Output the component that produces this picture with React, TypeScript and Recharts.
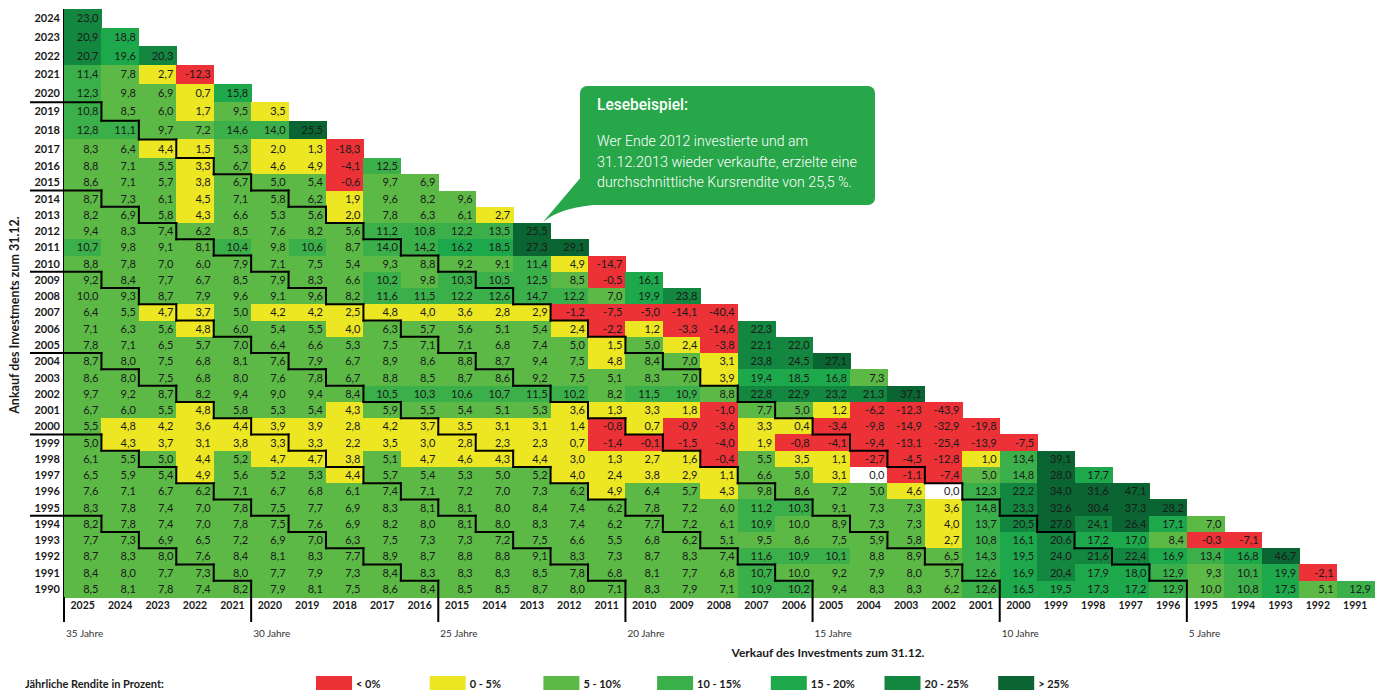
import React from "react";
import { ScatterChart, Scatter, XAxis, YAxis } from "recharts";

// Verkaufsjahre (Spalten, links -> rechts) und Ankaufsjahre (Zeilen, oben -> unten)
const SELL_YEARS = [
  2025, 2024, 2023, 2022, 2021, 2020, 2019, 2018, 2017, 2016, 2015, 2014, 2013, 2012, 2011, 2010, 2009, 2008,
  2007, 2006, 2005, 2004, 2003, 2002, 2001, 2000, 1999, 1998, 1997, 1996, 1995, 1994, 1993, 1992, 1991,
];
const BUY_YEARS = [
  2024, 2023, 2022, 2021, 2020, 2019, 2018, 2017, 2016, 2015, 2014, 2013, 2012, 2011, 2010, 2009, 2008, 2007,
  2006, 2005, 2004, 2003, 2002, 2001, 2000, 1999, 1998, 1997, 1996, 1995, 1994, 1993, 1992, 1991, 1990,
];

// Jaehrliche Rendite in %, je Ankaufsjahr, ab Verkauf 2025 abwaerts
const buy2024 = [23.0];
const buy2023 = [20.9, 18.8];
const buy2022 = [20.7, 19.6, 20.3];
const buy2021 = [11.4, 7.8, 2.7, -12.3];
const buy2020 = [12.3, 9.8, 6.9, 0.7, 15.8];
const buy2019 = [10.8, 8.5, 6.0, 1.7, 9.5, 3.5];
const buy2018 = [12.8, 11.1, 9.7, 7.2, 14.6, 14.0, 25.5];
const buy2017 = [8.3, 6.4, 4.4, 1.5, 5.3, 2.0, 1.3, -18.3];
const buy2016 = [8.8, 7.1, 5.5, 3.3, 6.7, 4.6, 4.9, -4.1, 12.5];
const buy2015 = [8.6, 7.1, 5.7, 3.8, 6.7, 5.0, 5.4, -0.6, 9.7, 6.9];
const buy2014 = [8.7, 7.3, 6.1, 4.5, 7.1, 5.8, 6.2, 1.9, 9.6, 8.2, 9.6];
const buy2013 = [8.2, 6.9, 5.8, 4.3, 6.6, 5.3, 5.6, 2.0, 7.8, 6.3, 6.1, 2.7];
const buy2012 = [9.4, 8.3, 7.4, 6.2, 8.5, 7.6, 8.2, 5.6, 11.2, 10.8, 12.2, 13.5, 25.5];
const buy2011 = [10.7, 9.8, 9.1, 8.1, 10.4, 9.8, 10.6, 8.7, 14.0, 14.2, 16.2, 18.5, 27.3, 29.1];
const buy2010 = [8.8, 7.8, 7.0, 6.0, 7.9, 7.1, 7.5, 5.4, 9.3, 8.8, 9.2, 9.1, 11.4, 4.9, -14.7];
const buy2009 = [9.2, 8.4, 7.7, 6.7, 8.5, 7.9, 8.3, 6.6, 10.2, 9.8, 10.3, 10.5, 12.5, 8.5, -0.5, 16.1];
const buy2008 = [10.0, 9.3, 8.7, 7.9, 9.6, 9.1, 9.6, 8.2, 11.6, 11.5, 12.2, 12.6, 14.7, 12.2, 7.0, 19.9, 23.8];
const buy2007 = [6.4, 5.5, 4.7, 3.7, 5.0, 4.2, 4.2, 2.5, 4.8, 4.0, 3.6, 2.8, 2.9, -1.2, -7.5, -5.0, -14.1, -40.4];
const buy2006 = [7.1, 6.3, 5.6, 4.8, 6.0, 5.4, 5.5, 4.0, 6.3, 5.7, 5.6, 5.1, 5.4, 2.4, -2.2, 1.2, -3.3, -14.6, 22.3];
const buy2005 = [7.8, 7.1, 6.5, 5.7, 7.0, 6.4, 6.6, 5.3, 7.5, 7.1, 7.1, 6.8, 7.4, 5.0, 1.5, 5.0, 2.4, -3.8, 22.1, 22.0];
const buy2004 = [
  8.7, 8.0, 7.5, 6.8, 8.1, 7.6, 7.9, 6.7, 8.9, 8.6, 8.8, 8.7, 9.4, 7.5, 4.8, 8.4, 7.0, 3.1, 23.8, 24.5, 27.1,
];
const buy2003 = [
  8.6, 8.0, 7.5, 6.8, 8.0, 7.6, 7.8, 6.7, 8.8, 8.5, 8.7, 8.6, 9.2, 7.5, 5.1, 8.3, 7.0, 3.9, 19.4, 18.5, 16.8, 7.3,
];
const buy2002 = [
  9.7, 9.2, 8.7, 8.2, 9.4, 9.0, 9.4, 8.4, 10.5, 10.3, 10.6, 10.7, 11.5, 10.2, 8.2, 11.5, 10.9, 8.8, 22.8, 22.9, 23.2,
  21.3, 37.1,
];
const buy2001 = [
  6.7, 6.0, 5.5, 4.8, 5.8, 5.3, 5.4, 4.3, 5.9, 5.5, 5.4, 5.1, 5.3, 3.6, 1.3, 3.3, 1.8, -1.0, 7.7, 5.0, 1.2, -6.2,
  -12.3, -43.9,
];
const buy2000 = [
  5.5, 4.8, 4.2, 3.6, 4.4, 3.9, 3.9, 2.8, 4.2, 3.7, 3.5, 3.1, 3.1, 1.4, -0.8, 0.7, -0.9, -3.6, 3.3, 0.4, -3.4, -9.8,
  -14.9, -32.9, -19.8,
];
const buy1999 = [
  5.0, 4.3, 3.7, 3.1, 3.8, 3.3, 3.3, 2.2, 3.5, 3.0, 2.8, 2.3, 2.3, 0.7, -1.4, -0.1, -1.5, -4.0, 1.9, -0.8, -4.1, -9.4,
  -13.1, -25.4, -13.9, -7.5,
];
const buy1998 = [
  6.1, 5.5, 5.0, 4.4, 5.2, 4.7, 4.7, 3.8, 5.1, 4.7, 4.6, 4.3, 4.4, 3.0, 1.3, 2.7, 1.6, -0.4, 5.5, 3.5, 1.1, -2.7,
  -4.5, -12.8, 1.0, 13.4, 39.1,
];
const buy1997 = [
  6.5, 5.9, 5.4, 4.9, 5.6, 5.2, 5.3, 4.4, 5.7, 5.4, 5.3, 5.0, 5.2, 4.0, 2.4, 3.8, 2.9, 1.1, 6.6, 5.0, 3.1, 0.0, -1.1,
  -7.4, 5.0, 14.8, 28.0, 17.7,
];
const buy1996 = [
  7.6, 7.1, 6.7, 6.2, 7.1, 6.7, 6.8, 6.1, 7.4, 7.1, 7.2, 7.0, 7.3, 6.2, 4.9, 6.4, 5.7, 4.3, 9.8, 8.6, 7.2, 5.0, 4.6,
  0.0, 12.3, 22.2, 34.0, 31.6, 47.1,
];
const buy1995 = [
  8.3, 7.8, 7.4, 7.0, 7.8, 7.5, 7.7, 6.9, 8.3, 8.1, 8.1, 8.0, 8.4, 7.4, 6.2, 7.8, 7.2, 6.0, 11.2, 10.3, 9.1, 7.3, 7.3,
  3.6, 14.8, 23.3, 32.6, 30.4, 37.3, 28.2,
];
const buy1994 = [
  8.2, 7.8, 7.4, 7.0, 7.8, 7.5, 7.6, 6.9, 8.2, 8.0, 8.1, 8.0, 8.3, 7.4, 6.2, 7.7, 7.2, 6.1, 10.9, 10.0, 8.9, 7.3, 7.3,
  4.0, 13.7, 20.5, 27.0, 24.1, 26.4, 17.1, 7.0,
];
const buy1993 = [
  7.7, 7.3, 6.9, 6.5, 7.2, 6.9, 7.0, 6.3, 7.5, 7.3, 7.3, 7.2, 7.5, 6.6, 5.5, 6.8, 6.2, 5.1, 9.5, 8.6, 7.5, 5.9, 5.8,
  2.7, 10.8, 16.1, 20.6, 17.2, 17.0, 8.4, -0.3, -7.1,
];
const buy1992 = [
  8.7, 8.3, 8.0, 7.6, 8.4, 8.1, 8.3, 7.7, 8.9, 8.7, 8.8, 8.8, 9.1, 8.3, 7.3, 8.7, 8.3, 7.4, 11.6, 10.9, 10.1, 8.8, 8.9,
  6.5, 14.3, 19.5, 24.0, 21.6, 22.4, 16.9, 13.4, 16.8, 46.7,
];
const buy1991 = [
  8.4, 8.0, 7.7, 7.3, 8.0, 7.7, 7.9, 7.3, 8.4, 8.3, 8.3, 8.3, 8.5, 7.8, 6.8, 8.1, 7.7, 6.8, 10.7, 10.0, 9.2, 7.9, 8.0,
  5.7, 12.6, 16.9, 20.4, 17.9, 18.0, 12.9, 9.3, 10.1, 19.9, -2.1,
];
const buy1990 = [
  8.5, 8.1, 7.8, 7.4, 8.2, 7.9, 8.1, 7.5, 8.6, 8.4, 8.5, 8.5, 8.7, 8.0, 7.1, 8.3, 7.9, 7.1, 10.9, 10.2, 9.4, 8.3, 8.3,
  6.2, 12.6, 16.5, 19.5, 17.3, 17.2, 12.9, 10.0, 10.8, 17.5, 5.1, 12.9,
];

const RETURNS = [
  buy2024, buy2023, buy2022, buy2021, buy2020, buy2019, buy2018, buy2017, buy2016, buy2015, buy2014, buy2013,
  buy2012, buy2011, buy2010, buy2009, buy2008, buy2007, buy2006, buy2005, buy2004, buy2003, buy2002, buy2001,
  buy2000, buy1999, buy1998, buy1997, buy1996, buy1995, buy1994, buy1993, buy1992, buy1991, buy1990,
];

const HOLD_MARKS = [35, 30, 25, 20, 15, 10, 5];

const LEGEND_LABELS = ["< 0%", "0 - 5%", "5 - 10%", "10 - 15%", "15 - 20%", "20 - 25%", "> 25%"];
const BAND_COLORS = ["#ED3237", "#ECE623", "#5CB946", "#3BB04A", "#1DA84C", "#138640", "#0A6532"];

const CALLOUT_TITLE = "Lesebeispiel:";
const CALLOUT_LINES = [
  "Wer Ende 2012 investierte und am",
  "31.12.2013 wieder verkaufte, erzielte eine",
  "durchschnittliche Kursrendite von 25,5 %.",
];
const CALLOUT_WIDTHS = [211, 260, 255];

// layout
const W = 1383;
const PLOT_L = 64;
const PLOT_R = 1374;
const CW = (PLOT_R - PLOT_L) / SELL_YEARS.length;
const SPLIT = 158; // Grenze zwischen oberem (hoeheren) und unterem Block
const TOP_H = SPLIT;
const BOT_TOP = SPLIT - 2;
const BOT_H = 690 - BOT_TOP;
const X_AXIS_H = 93;
const AXIS_Y = BOT_H - X_AXIS_H;
const RH_TOP = (SPLIT - 9) / 8;
const RH_BOT = (597 - SPLIT) / 27;

const CELL_FONT = "Lato, 'Open Sans', sans-serif";
const NARROW_FONT = "'Liberation Sans Narrow', 'Roboto', 'Liberation Sans', sans-serif";

function bandColor(v: number) {
  if (v < 0) return BAND_COLORS[0];
  if (v === 0) return "#ffffff";
  if (v < 5) return BAND_COLORS[1];
  if (v <= 10) return BAND_COLORS[2];
  if (v < 15) return BAND_COLORS[3];
  if (v < 20) return BAND_COLORS[4];
  if (v < 25) return BAND_COLORS[5];
  return BAND_COLORS[6];
}

const fmt = (v: number) => v.toFixed(1).replace(".", ",");

type CellDatum = { x: number; y: number; v: number; sell: number; buy: number; hold: number };

function buildCells(fromBuy: number, toBuy: number): CellDatum[] {
  const out: CellDatum[] = [];
  BUY_YEARS.forEach((buy, r) => {
    if (buy > fromBuy || buy < toBuy) return;
    RETURNS[r].forEach((v, i) => {
      const sell = SELL_YEARS[i];
      out.push({ x: i + 0.5, y: buy - toBuy + 0.5, v, sell, buy, hold: sell - buy });
    });
  });
  return out;
}

const topCells = buildCells(2024, 2017);
const bottomCells = buildCells(2016, 1990);

const isStep = (hold: number) => hold > 1 && hold % 5 === 1;

function CellBox(props: any) {
  const { cx, cy, payload, rh } = props;
  if (cx == null || cy == null) return null;
  const d = payload as CellDatum;
  return (
    <g>
      <rect
        x={cx - CW / 2}
        y={cy - rh / 2}
        width={CW + 0.6}
        height={rh + 0.6}
        fill={bandColor(d.v)}
        shapeRendering="crispEdges"
      />
      <text
        x={cx + CW / 2 - 3}
        y={cy + 4}
        textAnchor="end"
        fontFamily={CELL_FONT}
        fontSize={11}
        fill="#1a1a1a"
      >
        {fmt(d.v)}
      </text>
    </g>
  );
}

// Treppenlinien an den 5-Jahres-Grenzen der Haltedauer
function StepEdges(props: any) {
  const { cx, cy, payload, rh } = props;
  const d = payload as CellDatum;
  if (cx == null || !isStep(d.hold)) return <g />;
  const l = cx - CW / 2;
  const r = cx + CW / 2;
  const t = cy - rh / 2;
  const b = cy + rh / 2;
  return (
    <g stroke="#000" strokeWidth={2} strokeLinecap="square">
      <line x1={l} x2={r} y1={t} y2={t} />
      <line x1={r} x2={r} y1={t} y2={b} />
    </g>
  );
}

function YTick(props: any) {
  const { y, payload, base, rh } = props;
  const year = base + Math.floor(payload.value);
  const stub = year < 2024 && isStep(2025 - year);
  return (
    <g>
      <text x={60} y={y + 4} textAnchor="end" fontFamily={CELL_FONT} fontWeight={700} fontSize={11} fill="#1a1a1a">
        {year}
      </text>
      {stub && <line x1={30} x2={PLOT_L} y1={y - rh / 2} y2={y - rh / 2} stroke="#000" strokeWidth={2} />}
    </g>
  );
}

function XTick(props: any) {
  const { x, payload } = props;
  const sell = SELL_YEARS[Math.floor(payload.value)];
  const hold = sell - BUY_YEARS[BUY_YEARS.length - 1];
  const left = x - CW / 2;
  return (
    <g>
      <text x={x} y={AXIS_Y + 12} textAnchor="middle" fontFamily={CELL_FONT} fontWeight={700} fontSize={10.5} fill="#1a1a1a">
        {sell}
      </text>
      {HOLD_MARKS.includes(hold) && (
        <g>
          <line x1={left} x2={left} y1={AXIS_Y} y2={AXIS_Y + 25} stroke="#000" strokeWidth={2} />
          <text x={left + 2} y={AXIS_Y + 40} fontFamily={CELL_FONT} fontSize={10} fill="#333">
            {hold} Jahre
          </text>
        </g>
      )}
    </g>
  );
}

const colTicks = SELL_YEARS.map((_, i) => i + 0.5);

export default function App() {
  return (
    <div style={{ position: "absolute", left: 0, top: 0, width: W, height: 690, background: "#fff" }}>
      <div style={{ position: "absolute", left: 0, top: 0 }}>
        <ScatterChart width={W} height={TOP_H} margin={{ top: 9, right: W - PLOT_R, bottom: 0, left: 0 }}>
          <XAxis type="number" dataKey="x" domain={[0, SELL_YEARS.length]} hide />
          <YAxis
            type="number"
            dataKey="y"
            domain={[0, 8]}
            ticks={[0.5, 1.5, 2.5, 3.5, 4.5, 5.5, 6.5, 7.5]}
            interval={0}
            width={PLOT_L}
            axisLine={{ stroke: "#000", strokeWidth: 2 }}
            tickLine={false}
            tick={<YTick base={2017} rh={RH_TOP} />}
          />
          <Scatter data={topCells} isAnimationActive={false} shape={(p: any) => <CellBox {...p} rh={RH_TOP} />} />
          <Scatter data={topCells} isAnimationActive={false} shape={(p: any) => <StepEdges {...p} rh={RH_TOP} />} />
        </ScatterChart>
      </div>
      <div style={{ position: "absolute", left: 0, top: BOT_TOP }}>
        <ScatterChart width={W} height={BOT_H} margin={{ top: 2, right: W - PLOT_R, bottom: 0, left: 0 }}>
          <XAxis
            type="number"
            dataKey="x"
            domain={[0, SELL_YEARS.length]}
            ticks={colTicks}
            interval={0}
            height={X_AXIS_H}
            axisLine={{ stroke: "#000", strokeWidth: 2 }}
            tickLine={false}
            tick={<XTick />}
          />
          <YAxis
            type="number"
            dataKey="y"
            domain={[0, 27]}
            ticks={Array.from({ length: 27 }, (_, i) => i + 0.5)}
            interval={0}
            width={PLOT_L}
            axisLine={{ stroke: "#000", strokeWidth: 2 }}
            tickLine={false}
            tick={<YTick base={1990} rh={RH_BOT} />}
          />
          <Scatter data={bottomCells} isAnimationActive={false} shape={(p: any) => <CellBox {...p} rh={RH_BOT} />} />
          <Scatter data={bottomCells} isAnimationActive={false} shape={(p: any) => <StepEdges {...p} rh={RH_BOT} />} />
        </ScatterChart>
      </div>
      <svg
        width={W}
        height={690}
        style={{ position: "absolute", left: 0, top: 0, pointerEvents: "none" }}
      >
        <text
          transform="translate(19,315) rotate(-90)"
          textAnchor="middle"
          fontFamily={CELL_FONT}
          fontWeight={700}
          fontSize={12.5}
          fill="#1a1a1a"
        >
          Ankauf des Investments zum 31.12.
        </text>
        <text x={828} y={657} textAnchor="middle" fontFamily={CELL_FONT} fontWeight={700} fontSize={12} fill="#1a1a1a">
          Verkauf des Investments zum 31.12.
        </text>

        <text x={25} y={688} fontFamily={CELL_FONT} fontWeight={700} fontSize={11} fill="#1a1a1a">
          Jährliche Rendite in Prozent:
        </text>
        {LEGEND_LABELS.map((label, i) => {
          const x0 = 316 + i * 113.7;
          return (
            <g key={label}>
              <rect x={x0} y={676} width={36} height={14} fill={BAND_COLORS[i]} />
              <text x={x0 + 40} y={688} fontFamily={CELL_FONT} fontWeight={700} fontSize={11} fill="#1a1a1a">
                {label}
              </text>
            </g>
          );
        })}

        <g fill="#27A74A">
          <rect x={580} y={86} width={295} height={119} rx={7} />
          <path d="M 582 176 L 543 222 Q 562 206 606 204 L 606 176 Z" />
        </g>
        <text
          x={597}
          y={110}
          fontFamily={NARROW_FONT}
          fontWeight={500}
          fontSize={16}
          fill="#fff"
          textLength={91}
          lengthAdjust="spacingAndGlyphs"
        >
          {CALLOUT_TITLE}
        </text>
        {CALLOUT_LINES.map((line, i) => (
          <text
            key={i}
            x={597}
            y={146 + i * 20.5}
            fontFamily={NARROW_FONT}
            fontWeight={300}
            fontSize={15}
            fill="#fff"
            textLength={CALLOUT_WIDTHS[i]}
            lengthAdjust="spacingAndGlyphs"
          >
            {line}
          </text>
        ))}
      </svg>
    </div>
  );
}
